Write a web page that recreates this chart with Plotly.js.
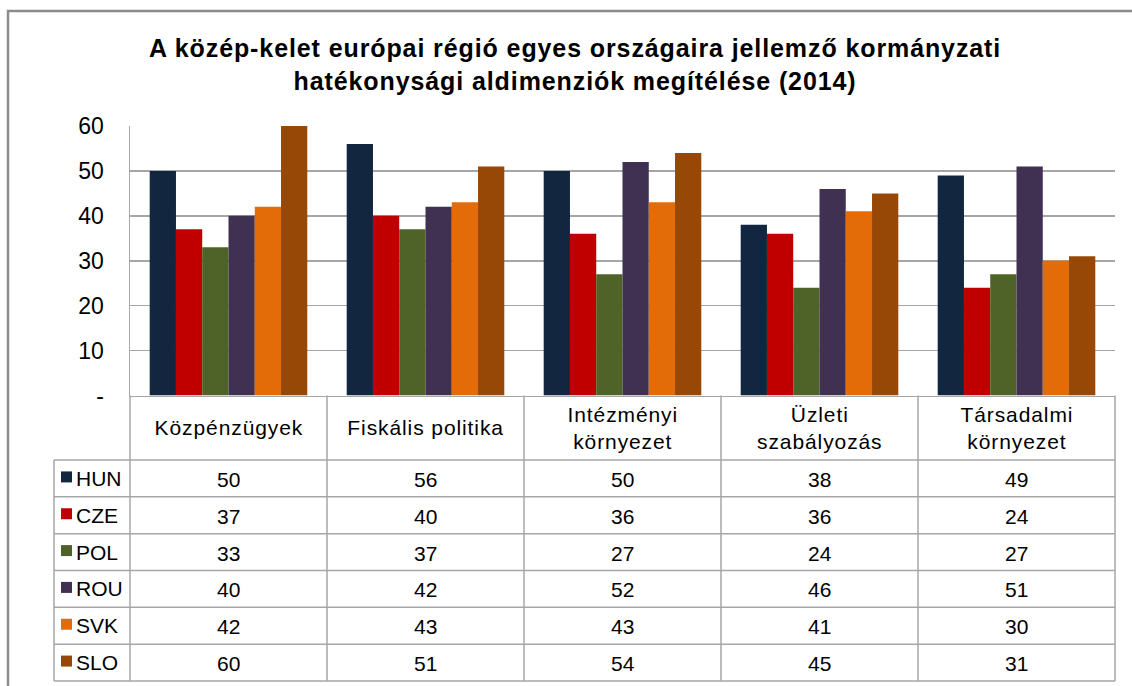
<!DOCTYPE html>
<html>
<head>
<meta charset="utf-8">
<script src="https://cdn.plot.ly/plotly-3.0.1.min.js"></script>
<style>
  html, body { margin: 0; padding: 0; background: #ffffff; }
  #chart { width: 1132px; height: 686px; }
  #chart .gtitle { letter-spacing: 0.9px; }
</style>
</head>
<body>
<div id="chart"></div>
<script>
// ---- data ----
const categories = ['Közpénzügyek', 'Fiskális politika', 'Intézményi környezet', 'Üzleti szabályozás', 'Társadalmi környezet'];
const headerLabels = ['Közpénzügyek', 'Fiskális politika', 'Intézményi<br>környezet', 'Üzleti<br>szabályozás', 'Társadalmi<br>környezet'];
const countries = ['HUN', 'CZE', 'POL', 'ROU', 'SVK', 'SLO'];
const HUN = [50, 56, 50, 38, 49];
const CZE = [37, 40, 36, 36, 24];
const POL = [33, 37, 27, 24, 27];
const ROU = [40, 42, 52, 46, 51];
const SVK = [42, 43, 43, 41, 30];
const SLO = [60, 51, 54, 45, 31];
const yTickVals = [0, 10, 20, 30, 40, 50, 60];
const yTickText = ['-', '10', '20', '30', '40', '50', '60'];
const titleText = 'A közép-kelet európai régió egyes országaira jellemző kormányzati<br>hatékonysági aldimenziók megítélése (2014)';

const seriesValues = [HUN, CZE, POL, ROU, SVK, SLO];
const colors = ['#13263f', '#c00000', '#4f6228', '#403152', '#e36c09', '#974806'];

// ---- geometry (pixels) ----
const FIG_W = 1132, FIG_H = 686;
const L = 54, R = 1115, T = 126, B = 681;
const W = R - L, H = B - T;
const plotLeft = 130, axisBottom = 395.5, headerBottom = 460;
const rowH = (B - headerBottom) / countries.length;
const catW = (R - plotLeft) / categories.length;
const px2x = p => (p - L) / W;
const py2y = p => (B - p) / H;

const gridColor = '#a6a6a6';
const font = 'Liberation Sans, Arial, sans-serif';

const traces = countries.map((c, i) => ({
  type: 'bar',
  name: c,
  x: categories,
  y: seriesValues[i],
  marker: { color: colors[i], line: { width: 0 } },
  hoverinfo: 'x+y+name'
}));

const shapes = [];
const annotations = [];

// outer frame
shapes.push({
  type: 'rect', xref: 'paper', yref: 'paper',
  x0: px2x(8), x1: px2x(1160), y0: py2y(720), y1: py2y(11),
  line: { color: '#8c8c8c', width: 2.5 }, fillcolor: 'rgba(0,0,0,0)', layer: 'below'
});

// table vertical lines
for (let i = 0; i <= categories.length; i++) {
  const xp = px2x(plotLeft + i * catW);
  shapes.push({ type: 'line', xref: 'paper', yref: 'paper', x0: xp, x1: xp,
    y0: py2y(axisBottom), y1: py2y(B), line: { color: gridColor, width: 1.5 } });
}
// left column line
shapes.push({ type: 'line', xref: 'paper', yref: 'paper', x0: px2x(L), x1: px2x(L),
  y0: py2y(headerBottom), y1: py2y(B), line: { color: gridColor, width: 1.5 } });
// table horizontal lines
for (let j = 0; j <= countries.length; j++) {
  const yp = py2y(headerBottom + j * rowH);
  shapes.push({ type: 'line', xref: 'paper', yref: 'paper', x0: px2x(L), x1: px2x(R),
    y0: yp, y1: yp, line: { color: gridColor, width: 1.5 } });
}

// header labels
categories.forEach((c, i) => {
  annotations.push({
    xref: 'x', yref: 'paper', x: c, y: py2y((axisBottom + headerBottom) / 2),
    text: headerLabels[i], showarrow: false, xanchor: 'center', yanchor: 'middle',
    font: { family: font, size: 21, color: '#000' }
  });
});

// rows: legend keys, labels and values
countries.forEach((c, j) => {
  const yc = headerBottom + (j + 0.5) * rowH;
  shapes.push({ type: 'rect', xref: 'paper', yref: 'paper',
    x0: px2x(61), x1: px2x(72), y0: py2y(yc + 4), y1: py2y(yc - 7),
    fillcolor: colors[j], line: { width: 0 } });
  annotations.push({
    xref: 'paper', yref: 'paper', x: px2x(74), y: py2y(yc), text: c, showarrow: false,
    xanchor: 'left', yanchor: 'middle', font: { family: font, size: 21, color: '#000' }
  });
  categories.forEach((cat, i) => {
    annotations.push({
      xref: 'x', yref: 'paper', x: cat, y: py2y(yc + 1), text: String(seriesValues[j][i]),
      showarrow: false, xanchor: 'center', yanchor: 'middle',
      font: { family: font, size: 21, color: '#000' }
    });
  });
});

const layout = {
  width: FIG_W, height: FIG_H,
  margin: { l: L, r: FIG_W - R, t: T, b: FIG_H - B },
  paper_bgcolor: '#ffffff', plot_bgcolor: '#ffffff',
  title: {
    text: titleText, x: 0.508, xanchor: 'center', y: 1 - 57 / FIG_H, yanchor: 'middle',
    font: { family: font, size: 25, color: '#000', weight: 'bold' }
  },
  showlegend: false,
  barmode: 'group', bargap: 0.2, bargroupgap: 0,
  xaxis: {
    domain: [px2x(plotLeft), 1], type: 'category', showticklabels: false,
    showgrid: false, showline: true, linecolor: gridColor, linewidth: 1.5,
    ticks: '', zeroline: false, fixedrange: true
  },
  yaxis: {
    domain: [py2y(axisBottom), 1], range: [0, 60], tickvals: yTickVals, ticktext: yTickText,
    showgrid: true, gridcolor: gridColor, gridwidth: 1.5, zeroline: false,
    showline: true, linecolor: gridColor, linewidth: 1.5,
    ticks: 'outside', ticklen: 20, tickcolor: 'rgba(0,0,0,0)',
    tickfont: { family: font, size: 23, color: '#000' }, fixedrange: true
  },
  shapes: shapes,
  annotations: annotations
};

Plotly.newPlot('chart', traces, layout, { displayModeBar: false, staticPlot: true }).then(gd => {
  // slightly wider letter spacing for the table header texts, as in the original
  gd.querySelectorAll('.annotation').forEach(a => {
    const idx = +a.getAttribute('data-index');
    if (idx < categories.length) {
      const t = a.querySelector('text');
      if (t) t.style.letterSpacing = '0.9px';
    }
  });
});
</script>
</body>
</html>
